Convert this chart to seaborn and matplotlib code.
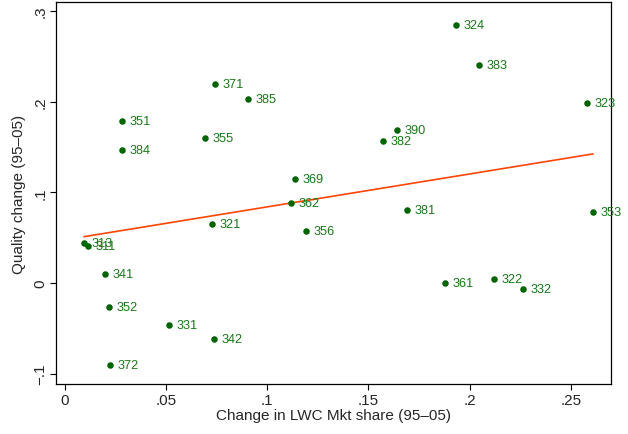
import numpy as np
import pandas as pd
import matplotlib
matplotlib.use("Agg")
import matplotlib.pyplot as plt
import seaborn as sns

# industry codes and values
industry = ["324", "383", "323", "371", "385", "351", "355", "390", "382", "384",
            "369", "362", "321", "381", "353", "356", "313", "311", "341", "361",
            "322", "332", "352", "331", "342", "372"]
mkt_share_change = [0.193, 0.2046, 0.258, 0.0742, 0.0904, 0.0283, 0.0693, 0.1641, 0.1572, 0.0283,
                    0.1137, 0.1117, 0.0727, 0.169, 0.2609, 0.1191, 0.0095, 0.0115, 0.0199, 0.1878,
                    0.2120, 0.2263, 0.0219, 0.0515, 0.0737, 0.0224]
quality_change = [0.285, 0.241, 0.199, 0.220, 0.203, 0.179, 0.160, 0.169, 0.157, 0.147,
                  0.115, 0.088, 0.065, 0.080, 0.078, 0.057, 0.044, 0.041, 0.010, 0.000,
                  0.004, -0.007, -0.027, -0.046, -0.062, -0.090]

x_ticks = [0, 0.05, 0.1, 0.15, 0.2, 0.25]
x_tick_labels = ["0", ".05", ".1", ".15", ".2", ".25"]
y_ticks = [-0.1, 0, 0.1, 0.2, 0.3]
y_tick_labels = ["-.1", "0", ".1", ".2", ".3"]

DOT = "#006400"
TXT = "#1a761a"
FIT = "#ff4500"

df = pd.DataFrame({"ind": industry, "x": mkt_share_change, "y": quality_change})

sns.set_style("white")
plt.rcParams["font.family"] = ["Liberation Sans", "DejaVu Sans"]

fig, ax = plt.subplots(figsize=(6.28, 4.35), dpi=100)
fig.subplots_adjust(left=0.0892, right=0.973, top=0.9931, bottom=0.1149)

sns.scatterplot(data=df, x="x", y="y", color=DOT, s=22, linewidth=0, ax=ax, zorder=3)
sns.regplot(data=df, x="x", y="y", scatter=False, ci=None, ax=ax,
            line_kws={"color": FIT, "linewidth": 1.2, "zorder": 2})

# point labels, to the right of each marker
for _, r in df.iterrows():
    ax.annotate(r["ind"], (r["x"], r["y"]), xytext=(5.5, 0), textcoords="offset points",
                ha="left", va="center", fontsize=9.2, color=TXT, zorder=4,
                annotation_clip=False)

ax.set_xlim(-0.0043, 0.2698)
ax.set_ylim(-0.1115, 0.310)
ax.set_xticks(x_ticks)
ax.set_xticklabels(x_tick_labels)
ax.set_yticks(y_ticks)
ax.set_yticklabels([t.replace("-", "\u2212") for t in y_tick_labels], rotation=90, va="center")
ax.tick_params(axis="both", direction="out", length=4.3, width=0.8, color="black",
               labelsize=11, pad=2, bottom=True, left=True)

for s in ax.spines.values():
    s.set_color("black")
    s.set_linewidth(0.9)

ax.set_xlabel("Change in LWC Mkt share (95\u201305)", fontsize=11, labelpad=1)
ax.set_ylabel("Quality change (95\u201305)", fontsize=11, labelpad=5)

fig.savefig("out.png", dpi=100)
